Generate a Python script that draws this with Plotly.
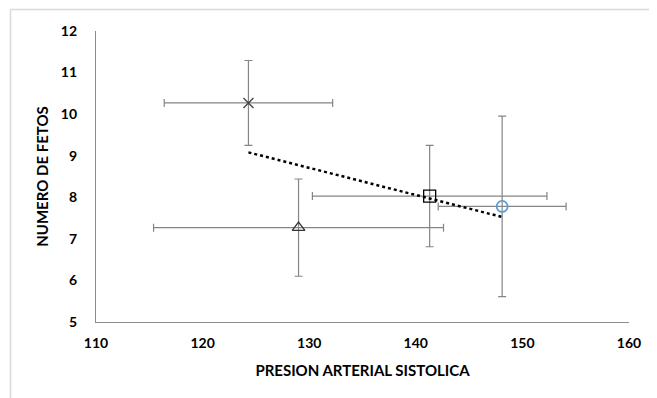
import numpy as np
import plotly.graph_objects as go

# Data
x_vals = [124.3, 141.3, 148.1, 129.0]
y_vals = [10.27, 8.03, 7.78, 7.27]
x_err = [7.9, 11.0, 6.0, 13.6]
y_err = [1.02, 1.22, 2.17, 1.17]
symbols = ["x-thin-open", "square-open", "circle-open", "triangle-up-open"]
marker_colors = ["#404040", "#000000", "#5B9BD5", "#333333"]
marker_sizes = [10, 12, 11, 11]

x_ticks = [110, 120, 130, 140, 150, 160]
y_ticks = [5, 6, 7, 8, 9, 10, 11, 12]

FONT = "Lato"

fig = go.Figure()

for i in range(len(x_vals)):
    fig.add_trace(go.Scatter(
        x=[x_vals[i]], y=[y_vals[i]],
        mode="markers",
        marker=dict(symbol=symbols[i], size=marker_sizes[i],
                    color=marker_colors[i],
                    line=dict(color=marker_colors[i], width=1.7 if i == 2 else 1.3)),
        error_x=dict(type="data", array=[x_err[i]], color="#858585",
                     thickness=1.2, width=4),
        error_y=dict(type="data", array=[y_err[i]], color="#858585",
                     thickness=1.2, width=4),
        showlegend=False,
        hoverinfo="skip",
    ))

# Linear trend line across the points
slope, intercept = np.polyfit(x_vals, y_vals, 1)
tx = [min(x_vals), max(x_vals)]
ty = [slope * v + intercept for v in tx]
fig.add_trace(go.Scatter(
    x=tx, y=ty, mode="lines",
    line=dict(color="#000000", width=2.5, dash="dot"),
    showlegend=False, hoverinfo="skip",
))

# figure sits in the page with an 8px body margin
W, H = 649, 390
L, R, T, B = 88, 28, 23, 76
pw = W - L - R
ph = H - T - B

def px_to_paper_x(px):
    return (px - L) / pw

def py_to_paper_y(py):
    return (H - B - py) / ph

# outer chart frame (left and top edges visible)
fig.add_shape(type="line", xref="paper", yref="paper",
              x0=px_to_paper_x(2.5), x1=px_to_paper_x(2.5),
              y0=py_to_paper_y(1.5), y1=py_to_paper_y(400),
              line=dict(color="#D9D9D9", width=1.5))
fig.add_shape(type="line", xref="paper", yref="paper",
              x0=px_to_paper_x(2.5), x1=px_to_paper_x(660),
              y0=py_to_paper_y(1.5), y1=py_to_paper_y(1.5),
              line=dict(color="#D9D9D9", width=1.5))

fig.update_layout(
    width=W, height=H,
    margin=dict(l=L, r=R, t=T, b=B),
    paper_bgcolor="white",
    plot_bgcolor="white",
    font=dict(family=FONT, color="#000000"),
    xaxis=dict(
        range=[110, 160], tickvals=x_ticks,
        ticktext=[str(v) for v in x_ticks],
        showgrid=False, zeroline=False,
        showline=True, linecolor="#8C8C8C", linewidth=1.2,
        ticks="outside", ticklen=8, tickcolor="rgba(0,0,0,0)",
        tickfont=dict(family=FONT, size=14, color="#000000", weight="bold"),
        title=dict(text="PRESION ARTERIAL SISTOLICA",
                   font=dict(family=FONT, size=15, color="#000000", weight="bold"),
                   standoff=15),
        automargin=False,
    ),
    yaxis=dict(
        range=[5, 12], tickvals=y_ticks,
        ticktext=[str(v) for v in y_ticks],
        showgrid=False, zeroline=False,
        showline=True, linecolor="#8C8C8C", linewidth=1.2,
        ticks="outside", ticklen=15, tickcolor="rgba(0,0,0,0)",
        tickfont=dict(family=FONT, size=14, color="#000000", weight="bold"),
        title=dict(text="NUMERO DE FETOS",
                   font=dict(family=FONT, size=15, color="#000000", weight="bold"),
                   standoff=8),
        automargin=False,
    ),
)

fig.write_html("out.html")
